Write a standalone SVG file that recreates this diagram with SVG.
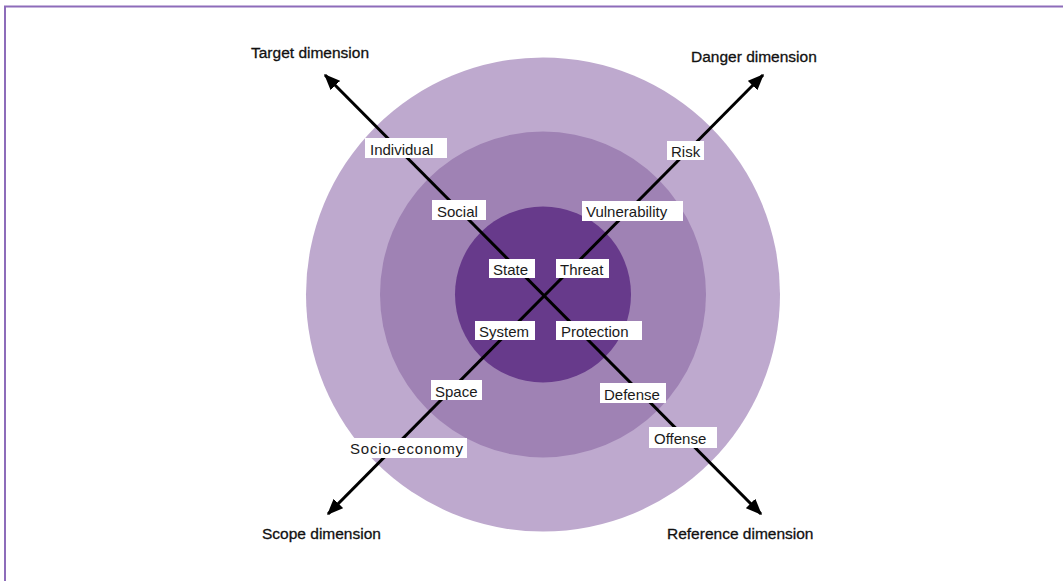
<svg xmlns="http://www.w3.org/2000/svg" width="1063" height="581" viewBox="0 0 1063 581">
  <style>
    .lbl rect { fill: #ffffff; }
    .lbl text { font-family: "Liberation Sans", Arial, sans-serif; font-size: 15px; fill: #1a1a1a; }
    .dim { font-family: "Liberation Sans", Arial, sans-serif; font-size: 15.5px; fill: #111111; stroke: #111111; stroke-width: 0.3; }
    .axis { stroke: #000000; stroke-width: 3; fill: none; marker-start: url(#head); marker-end: url(#head); }
  </style>
  <defs>
    <marker id="head" viewBox="0 0 12 10" refX="11" refY="5" markerWidth="5.4" markerHeight="4.5" orient="auto-start-reverse" markerUnits="strokeWidth">
      <path d="M0,0 L12,5 L0,10 Z" fill="#000000"/>
    </marker>
  </defs>

  <rect width="1063" height="581" fill="#ffffff"/>
  <!-- frame -->
  <path d="M5,581 V6.5 H1063" fill="none" stroke="#8d6cba" stroke-width="2"/>

  <!-- concentric rings -->
  <g id="rings">
    <circle cx="543" cy="294.5" r="237" fill="#bea9ce"/>
    <circle cx="543" cy="294.5" r="163" fill="#9f82b4"/>
    <circle cx="543" cy="294.5" r="88" fill="#673a8b"/>
  </g>

  <!-- axes: target/reference and danger/scope -->
  <g id="connectors">
    <line class="axis" x1="325" y1="75" x2="761" y2="514"/>
    <line class="axis" x1="328" y1="514" x2="763" y2="75"/>
  </g>

  <!-- dimension titles -->
  <g id="target-dimension"><text class="dim" x="251" y="58">Target dimension</text></g>
  <g id="danger-dimension"><text class="dim" x="691" y="62">Danger dimension</text></g>
  <g id="scope-dimension"><text class="dim" x="262" y="539">Scope dimension</text></g>
  <g id="reference-dimension"><text class="dim" x="667" y="539">Reference dimension</text></g>

  <!-- ring labels -->
  <g id="individual" class="lbl"><rect x="365" y="138" width="82" height="20"/><text x="370" y="154.5">Individual</text></g>
  <g id="social" class="lbl"><rect x="432" y="200" width="54" height="20"/><text x="437" y="216.5">Social</text></g>
  <g id="state" class="lbl"><rect x="489" y="259" width="46" height="19"/><text x="493" y="274.5">State</text></g>
  <g id="threat" class="lbl"><rect x="556" y="259" width="53" height="19"/><text x="560" y="274.5">Threat</text></g>
  <g id="system" class="lbl"><rect x="475" y="321" width="60" height="19"/><text x="479" y="336.5">System</text></g>
  <g id="protection" class="lbl"><rect x="556" y="321" width="86" height="19"/><text x="561" y="336.5">Protection</text></g>
  <g id="space" class="lbl"><rect x="431" y="380" width="51" height="20"/><text x="435" y="396.5">Space</text></g>
  <g id="socio-economy" class="lbl"><rect x="347" y="438" width="120" height="20"/><text x="350" y="454" textLength="113" lengthAdjust="spacing">Socio-economy</text></g>
  <g id="defense" class="lbl"><rect x="600" y="383" width="66" height="20"/><text x="604" y="399.5">Defense</text></g>
  <g id="offense" class="lbl"><rect x="649" y="427" width="68" height="21"/><text x="654" y="444">Offense</text></g>
  <g id="risk" class="lbl"><rect x="667" y="141" width="37" height="19"/><text x="671" y="156.5">Risk</text></g>
  <g id="vulnerability" class="lbl"><rect x="582" y="201" width="101" height="20"/><text x="586" y="217">Vulnerability</text></g>
</svg>
